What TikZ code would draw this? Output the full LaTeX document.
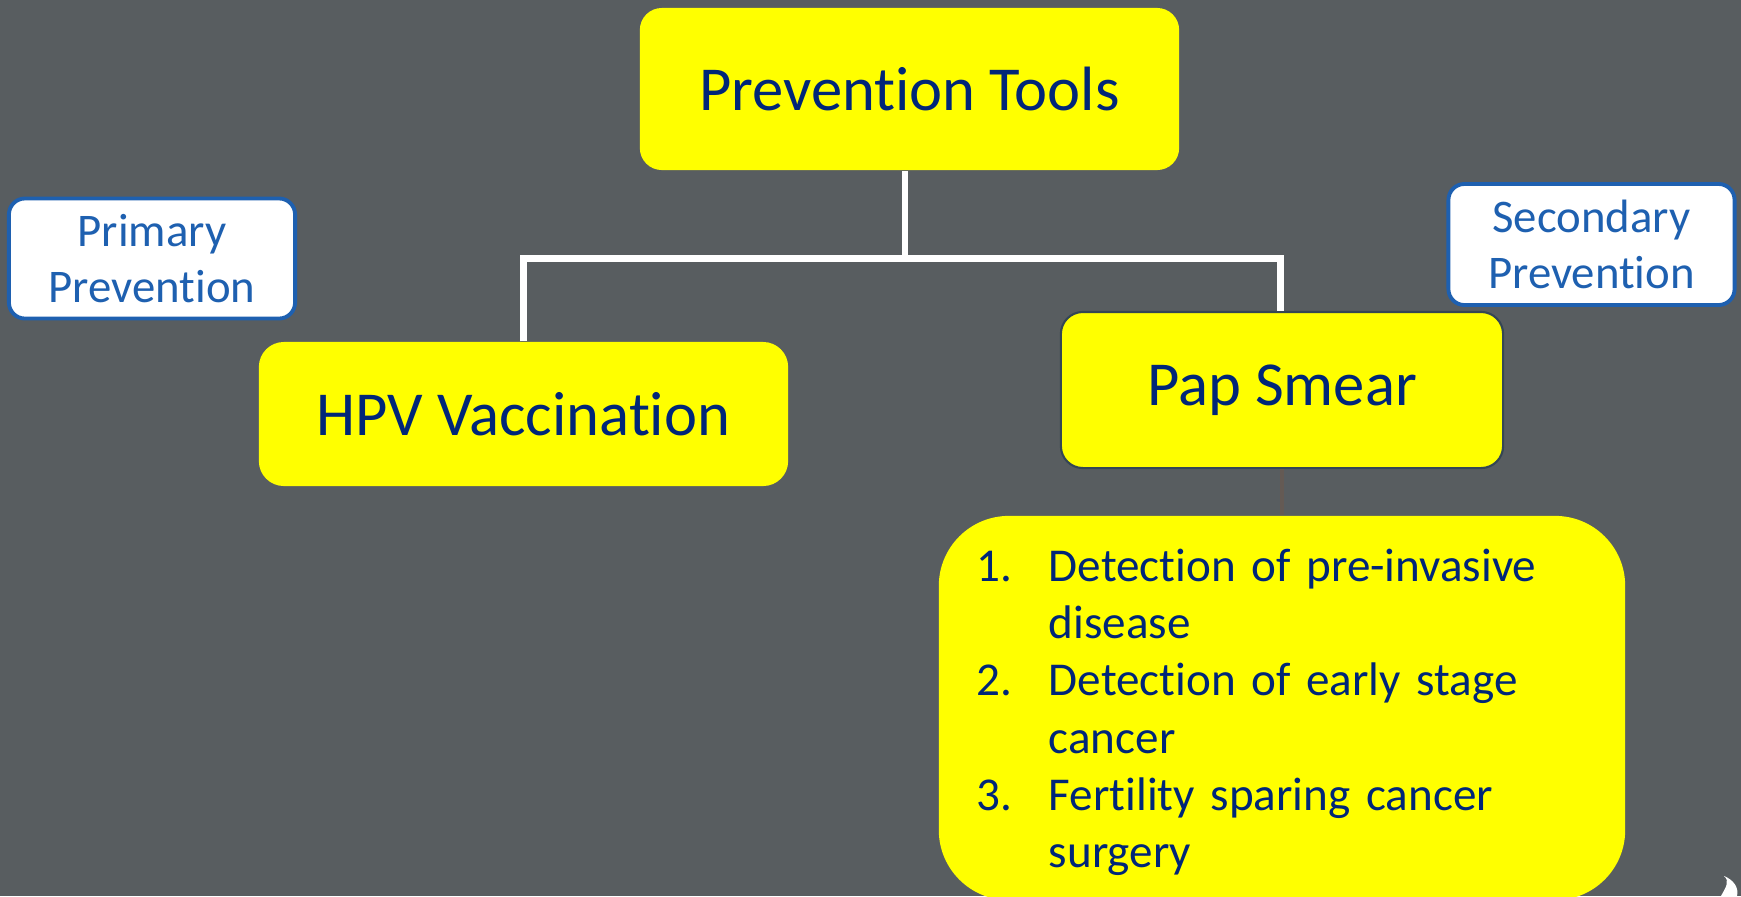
\documentclass[tikz,border=0pt]{standalone}
\usepackage{fontspec}
\setmainfont{Carlito}[Ligatures=NoCommon]

\definecolor{slidebg}{RGB}{88,93,96}
\definecolor{boxyellow}{RGB}{255,255,0}
\definecolor{navytext}{RGB}{0,38,120}
\definecolor{labelblue}{RGB}{30,96,176}
\definecolor{papedge}{RGB}{52,70,84}
\definecolor{faintline}{RGB}{100,90,84}

\begin{document}
\begin{tikzpicture}[x=0.01cm, y=-0.01cm,
    topic/.style={rectangle, rounded corners=0.22cm, fill=boxyellow, text=navytext, font=\fontsize{17.8}{21}\selectfont},
    tag/.style={rectangle, rounded corners=0.16cm, draw=labelblue, line width=1.1pt, fill=white, text=labelblue, align=center, font=\fontsize{13.3}{15.9}\selectfont, minimum width=2.86cm, minimum height=1.2cm},
    link/.style={draw=white, line width=1.9pt},
    faint/.style={draw=faintline, line width=0.9pt}
]
% Slide background
\useasboundingbox (0,0) rectangle (1741,896);
\fill[slidebg] (0,0) rectangle (1741,896);

% Main boxes
\node[topic, minimum width=5.39cm, minimum height=1.62cm] (tools) at (909.5,89) {Prevention Tools};
\node[topic, rounded corners=0.25cm, minimum width=5.29cm, minimum height=1.44cm] (hpv) at (523.5,414) {HPV Vaccination};
\node[topic, draw=papedge, line width=0.6pt, minimum width=4.42cm, minimum height=1.56cm] (pap) at (1282,390) {Pap Smear};

% List box under Pap Smear
\node[topic, rounded corners=0.7cm, minimum width=6.86cm, minimum height=3.84cm, text width=6.1cm, inner xsep=0.38cm, align=left, font=\fontsize{13.4}{16.3}\selectfont] (steps) at (1282,708) {%
\begin{tabular}{@{}p{0.72cm}@{}l@{}}
1. & Detection of pre-invasive\\
   & disease\\
2. & Detection of early stage\\
   & cancer\\
3. & Fertility sparing cancer\\
   & surgery
\end{tabular}\vspace*{-0.1cm}};

% Side labels
\node[tag] (primary) at (152,258.5) {Primary\\Prevention};
\node[tag, minimum height=1.21cm] (secondary) at (1591.5,244.5) {Secondary\\Prevention};

% Connectors
\draw[link] ([xshift=-1.3pt]tools.south) -- ++(0,88) coordinate (fork);
\draw[link] (hpv.north) |- (fork) -| ([xshift=-0.5pt]pap.north);
\draw[faint] (pap.south) -- (steps.north);

% Corner mark
\fill[white] (1721,896) .. controls (1726,887) and (1730,881) .. (1724,876) .. controls (1734,880) and (1739,888) .. (1737,896) -- cycle;

\end{tikzpicture}
\end{document}
